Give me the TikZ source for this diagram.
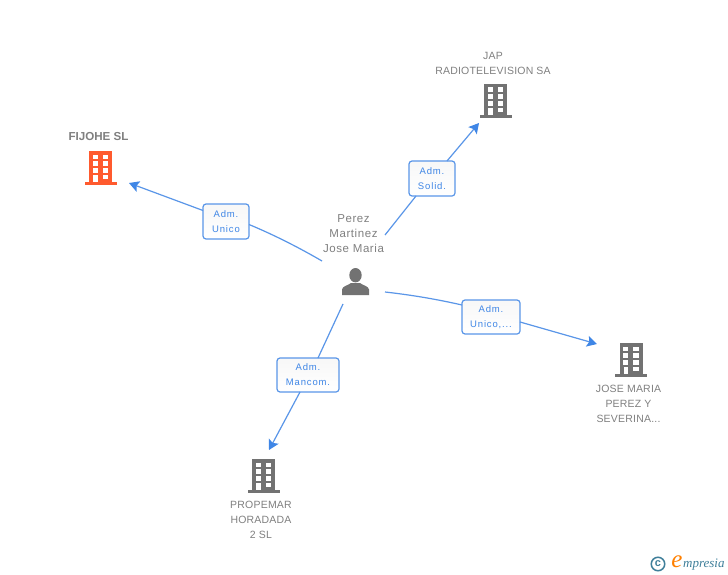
\documentclass[tikz,border=0pt]{standalone}
\usepackage{fontspec}
\setmainfont{Liberation Sans}
\newfontfamily\lblfont[LetterSpace=9]{Liberation Sans}
\newfontfamily\nmfont[LetterSpace=2]{Liberation Sans}
\newfontfamily\prfont[LetterSpace=5]{Liberation Sans}
\newfontfamily\logofont{Liberation Serif}
\usetikzlibrary{arrows.meta}
\definecolor{bluec}{HTML}{3F86E6}
\definecolor{edgec}{HTML}{5A96E8}
\definecolor{greyi}{HTML}{727272}
\definecolor{greyt}{HTML}{808080}
\definecolor{orangei}{HTML}{FF5A2E}
\definecolor{logot}{HTML}{3F7F9A}
\tikzset{
  x=1pt,y=-1pt,
  conn/.style={draw=edgec,line width=1.2pt},
  arr/.style={conn,-{Stealth[length=10pt,width=11pt,inset=2pt,color=bluec]}},
  rolebox/.style={draw=edgec,line width=1.2pt,rounded corners=3pt,top color=white!97!black,bottom color=white,
    inner sep=0pt,align=center,font=\fontsize{9.5}{15}\lblfont,text=bluec},
  entname/.style={align=center,inner sep=0pt,text=greyt,font=\fontsize{10.5}{15}\nmfont},
  bldbox/.style={minimum width=32pt,minimum height=34pt,inner sep=0pt},
  pics/bld/.style={code={
    \fill[#1] (4.5,0) rectangle (27.5,31);
    \fill[#1] (0,31) rectangle (32,34);
    \foreach \yy in {3.7,10.3,17}{
      \fill[white] (8,\yy) rectangle (13,\yy+4.8);
      \fill[white] (18,\yy) rectangle (23.4,\yy+4.8);
    }
    \fill[white] (8.6,24) rectangle (13,31.5);
    \fill[white] (18,24) rectangle (23.4,28.6);
  }}
}
\begin{document}
\begin{tikzpicture}
\useasboundingbox (0,0) rectangle (728,575);
\fill[white] (0,0) rectangle (728,575);

% buildings
\node[bldbox] (fijohe) at (101,168) {};
\pic at (fijohe.north west) {bld=orangei};
\node[bldbox] (jap) at (496,101) {};
\pic at (jap.north west) {bld=greyi};
\node[bldbox] (jose) at (631.5,360) {};
\pic at (jose.north west) {bld=greyi};
\node[bldbox] (prop) at (264,476) {};
\pic at (prop.north west) {bld=greyi};

% person
\node[minimum width=28pt,minimum height=28pt,inner sep=0pt] (person) at (355.5,282) {};
\fill[greyi] (355.5,275.2) ellipse (6.2 and 7.2);
\fill[greyi] (342,295) -- (342,289.5) .. controls (342.5,286) and (348,285.5) .. (351,283)
  -- (360,283) .. controls (363,285.5) and (368.5,286) .. (369,289.5) -- (369,295) -- cycle;

% names
\node[entname,font=\fontsize{11.6}{15}\bfseries\selectfont] (n1) at (98.5,137) {FIJOHE SL};
\node[entname] (n2) at (493,63) {JAP\\RADIOTELEVISION SA};
\node[entname] (n3) at (628.5,404) {JOSE MARIA\\PEREZ Y\\SEVERINA...};
\node[entname] (n4) at (261,520) {PROPEMAR\\HORADADA\\2 SL};
\node[entname,font=\fontsize{11.5}{15}\prfont] (n5) at (353.5,234) {Perez\\Martinez\\Jose Maria};

% role boxes
\node[rolebox,minimum width=46pt,minimum height=35pt] (r1) at (226,221.5) {Adm.\\Unico};
\node[rolebox,minimum width=46pt,minimum height=35pt] (r2) at (432,178.5) {Adm.\\Solid.};
\node[rolebox,minimum width=58pt,minimum height=34pt] (r3) at (491,317) {Adm.\\Unico,...};
\node[rolebox,minimum width=62pt,minimum height=34pt] (r4) at (308,375) {Adm.\\Mancom.};

% free ends
\coordinate (s1) at (322,261);
\coordinate (e1) at (129,183);
\coordinate (s2) at (385,235);
\coordinate (e2) at (479,123);
\coordinate (s3) at (385,292);
\coordinate (e3) at (597,344);
\coordinate (s4) at (343,304);
\coordinate (e4) at (269,450);

% connectors
\draw[conn] (s1) .. controls (298,247) and (272,234) .. (249,224.5);
\draw[arr] (203,210.5) -- (e1);
\draw[conn] (s2) -- (416,196);
\draw[arr] (447,161) -- (e2);
\draw[conn] (s3) .. controls (412,295) and (438,299.5) .. (462,305);
\draw[arr] (520,322) -- (e3);
\draw[conn] (s4) -- (318,358);
\draw[arr] (300,392) -- (e4);

% logo
\node[circle,draw=logot,line width=1.5pt,minimum size=13.5pt,inner sep=0pt,text=logot,font=\fontsize{11}{11}\bfseries\selectfont] (cc) at (658,564) {c};
\node[inner sep=0pt,text=orange,font=\fontsize{25}{25}\logofont\itshape] (ee) at (677,562) {e};
\node[inner sep=0pt,text=logot,anchor=west,font=\fontsize{13}{13}\logofont\itshape] (mp) at (683,565) {mpresia};
\end{tikzpicture}
\end{document}
